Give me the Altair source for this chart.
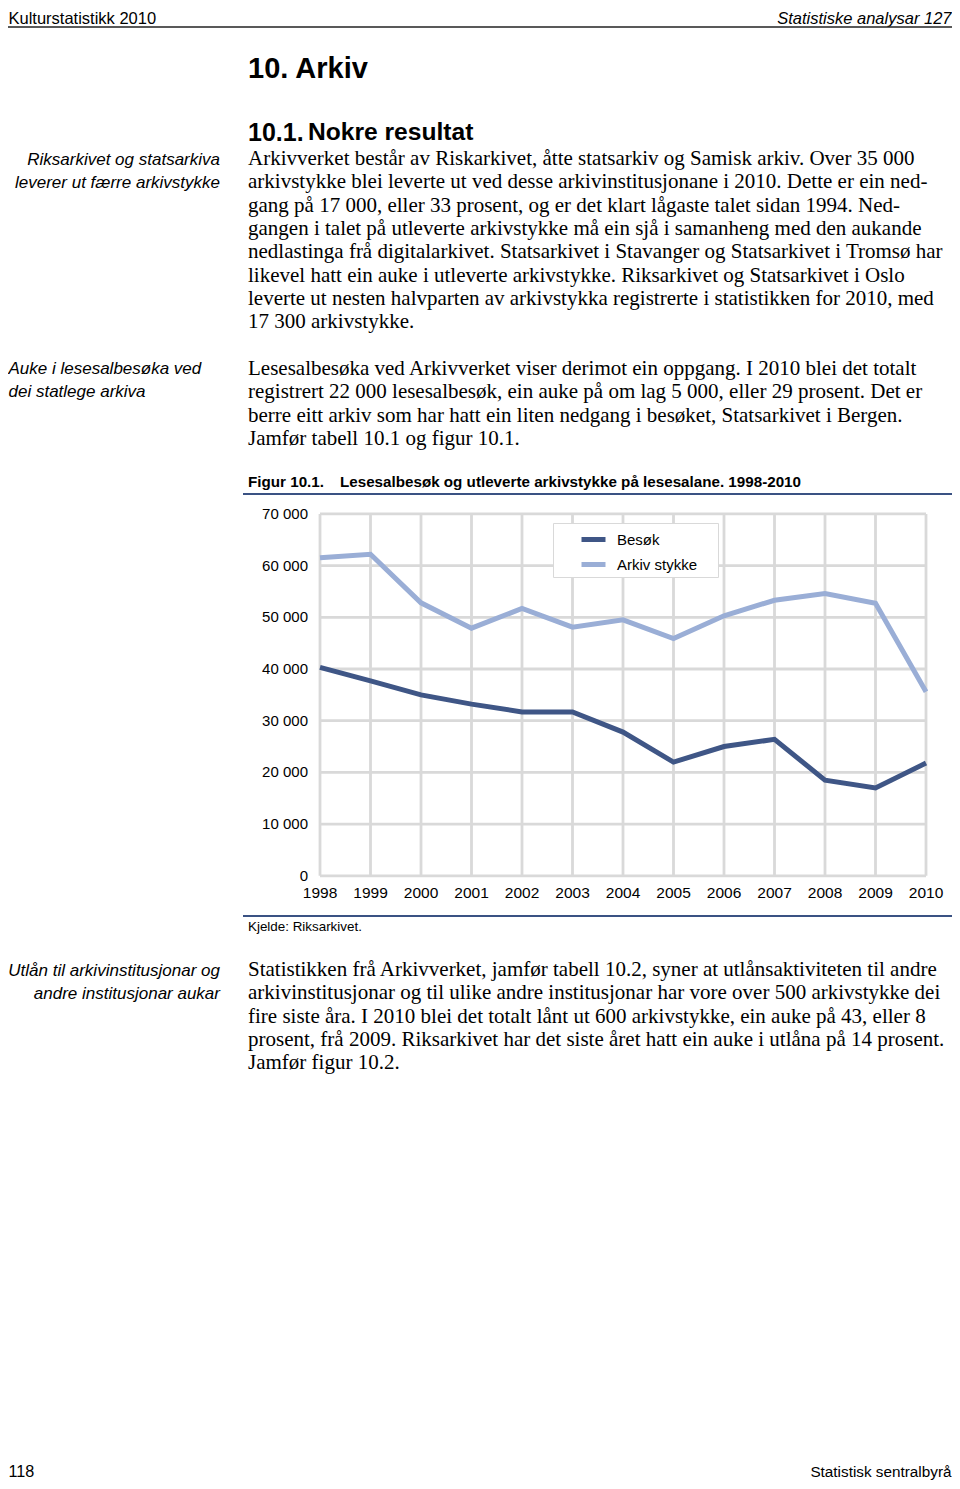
import altair as alt
import pandas as pd

# ---------------- data ----------------
years = [1998, 1999, 2000, 2001, 2002, 2003, 2004, 2005, 2006, 2007, 2008, 2009, 2010]
besok = [40300, 37700, 35000, 33200, 31700, 31700, 27800, 22000, 25000, 26400, 18500, 17000, 21800]
arkiv_stykke = [61500, 62200, 52800, 47900, 51700, 48100, 49500, 45900, 50300, 53300, 54600, 52700, 35600]
series_names = ["Besøk", "Arkiv stykke"]
series_colors = ["#3f5686", "#9aaed6"]
y_ticks = [0, 10000, 20000, 30000, 40000, 50000, 60000, 70000]
y_tick_labels = ["0", "10 000", "20 000", "30 000", "40 000", "50 000", "60 000", "70 000"]
x_tick_labels = [str(y) for y in years]

header_left = "Kulturstatistikk 2010"
header_right = "Statistiske analysar 127"
chapter = "10. Arkiv"
section_num = "10.1."
section_title = "Nokre resultat"
note1 = ["Riksarkivet og statsarkiva", "leverer ut færre arkivstykke"]
note2 = ["Auke i lesesalbesøka ved", "dei statlege arkiva"]
note3 = ["Utlån til arkivinstitusjonar og", "andre institusjonar aukar"]
para1 = [
    "Arkivverket består av Riskarkivet, åtte statsarkiv og Samisk arkiv. Over 35 000",
    "arkivstykke blei leverte ut ved desse arkivinstitusjonane i 2010. Dette er ein ned-",
    "gang på 17 000, eller 33 prosent, og er det klart lågaste talet sidan 1994. Ned-",
    "gangen i talet på utleverte arkivstykke må ein sjå i samanheng med den aukande",
    "nedlastinga frå digitalarkivet. Statsarkivet i Stavanger og Statsarkivet i Tromsø har",
    "likevel hatt ein auke i utleverte arkivstykke. Riksarkivet og Statsarkivet i Oslo",
    "leverte ut nesten halvparten av arkivstykka registrerte i statistikken for 2010, med",
    "17 300 arkivstykke.",
]
para2 = [
    "Lesesalbesøka ved Arkivverket viser derimot ein oppgang. I 2010 blei det totalt",
    "registrert 22 000 lesesalbesøk, ein auke på om lag 5 000, eller 29 prosent. Det er",
    "berre eitt arkiv som har hatt ein liten nedgang i besøket, Statsarkivet i Bergen.",
    "Jamfør tabell 10.1 og figur 10.1.",
]
para3 = [
    "Statistikken frå Arkivverket, jamfør tabell 10.2, syner at utlånsaktiviteten til andre",
    "arkivinstitusjonar og til ulike andre institusjonar har vore over 500 arkivstykke dei",
    "fire siste åra. I 2010 blei det totalt lånt ut 600 arkivstykke, ein auke på 43, eller 8",
    "prosent, frå 2009. Riksarkivet har det siste året hatt ein auke i utlåna på 14 prosent.",
    "Jamfør figur 10.2.",
]
fig_label = "Figur 10.1."
fig_title = "Lesesalbesøk og utleverte arkivstykke på lesesalane. 1998-2010"
source = "Kjelde: Riksarkivet."
footer_left = "118"
footer_right = "Statistisk sentralbyrå"

# ---------------- tables ----------------
lines_df = pd.DataFrame({
    "year": years * 2,
    "value": besok + arkiv_stykke,
    "series": [series_names[0]] * len(years) + [series_names[1]] * len(years),
})
xgrid_df = pd.DataFrame({"year": years, "label": x_tick_labels})
ygrid_df = pd.DataFrame({"v": y_ticks, "label": y_tick_labels})
one = pd.DataFrame({"k": [0]})

W, H = 944, 1473
OX, OY = 8, 8
def px(x): return x - OX
def py(y): return y - OY

xs = alt.Scale(domain=[1998, 2010], range=[px(320), px(926)], nice=False, zero=False)
ys = alt.Scale(domain=[0, 70000], range=[py(875.8), py(513.9)], nice=False, zero=False)

SANS = "Liberation Sans"
SERIF = "Liberation Serif"
GRID = "#d9d9d9"
RULEBLUE = "#3a5283"

layers = []

# vertical gridlines
layers.append(alt.Chart(xgrid_df).mark_rule(color=GRID, strokeWidth=2.8).encode(
    x=alt.X("year:Q", scale=xs, axis=None),
    y=alt.datum(0, scale=ys, axis=None),
    y2=alt.datum(70000),
))
# horizontal gridlines
layers.append(alt.Chart(ygrid_df).mark_rule(color=GRID, strokeWidth=2.8).encode(
    y=alt.Y("v:Q", scale=ys, axis=None),
    x=alt.datum(1998, scale=xs, axis=None),
    x2=alt.datum(2010),
))
# y tick labels
layers.append(alt.Chart(ygrid_df).mark_text(font=SANS, fontSize=15, align="right", baseline="middle", dx=-12, color="black").encode(
    y=alt.Y("v:Q", scale=ys, axis=None),
    x=alt.datum(1998, scale=xs, axis=None),
    text="label:N",
))
# x tick labels
layers.append(alt.Chart(xgrid_df).mark_text(font=SANS, fontSize=15.5, align="center", baseline="middle", dy=17, color="black").encode(
    x=alt.X("year:Q", scale=xs, axis=None),
    y=alt.datum(0, scale=ys, axis=None),
    text="label:N",
))
# data lines
layers.append(alt.Chart(lines_df).mark_line(strokeWidth=5).encode(
    x=alt.X("year:Q", scale=xs, axis=None),
    y=alt.Y("value:Q", scale=ys, axis=None),
    color=alt.Color("series:N", scale=alt.Scale(domain=series_names, range=series_colors),
                    sort=series_names,
                    legend=alt.Legend(orient="none", legendX=px(553), legendY=py(523), title=None,
                                      symbolType="stroke", symbolStrokeWidth=5, symbolSize=576,
                                      symbolOffset=24, labelOffset=9,
                                      labelFont=SANS, labelFontSize=15, labelColor="black",
                                      strokeColor=GRID, fillColor="white", padding=2, rowPadding=0,
                                      labelExpr="datum.label + '\u2002\u2800'")),
    order=alt.Order("year:Q"),
))

def txt(text, x, y, size, font=SANS, align="left", weight="normal", style="normal", lh=None, color="black"):
    kw = dict(text=text, font=font, fontSize=size, align=align, baseline="middle",
              fontWeight=weight, fontStyle=style, color=color)
    if lh is not None:
        kw["lineHeight"] = lh
    return alt.Chart(one).mark_text(**kw).encode(x=alt.value(px(x)), y=alt.value(py(y)))

def rule(x1, x2, y, color, w):
    return alt.Chart(one).mark_rule(color=color, strokeWidth=w).encode(
        x=alt.value(px(x1)), x2=alt.value(px(x2)), y=alt.value(py(y)))

LH = 23.3
BODY = 21
NOTE = 17
layers += [
    txt(header_left, 8.5, 18.5, 16.5),
    txt(header_right, 951.5, 18.5, 16.5, align="right", style="italic"),
    rule(8, 952, 27, "#222222", 1.5),
    txt(chapter, 248, 69, 29, weight="bold"),
    txt(section_num, 248, 133, 25, weight="bold"),
    txt(section_title, 308, 133, 24.6, weight="bold"),
    txt(note1, 220, 160, NOTE, align="right", style="italic", lh=LH),
    txt(para1, 248, 159, BODY, font=SERIF, lh=LH),
    txt(note2, 8.5, 369, NOTE, style="italic", lh=LH),
    txt(para2, 248, 369, BODY, font=SERIF, lh=LH),
    txt(fig_label, 248, 482, 15.2, weight="bold"),
    txt(fig_title, 340, 482, 15.2, weight="bold"),
    rule(243, 952, 494, RULEBLUE, 2),
    rule(243, 952, 916, RULEBLUE, 2),
    txt(source, 248, 927, 13.4),
    txt(note3, 220, 971, NOTE, align="right", style="italic", lh=LH),
    txt(para3, 248, 970, BODY, font=SERIF, lh=LH),
    txt(footer_left, 8.5, 1472, 16.2),
    txt(footer_right, 951.5, 1472, 15.3, align="right"),
]

chart = alt.layer(*layers).properties(
    width=W, height=H, padding=0, autosize=alt.AutoSizeParams(type="none"), background="white"
).configure_view(strokeWidth=0)

chart.save("out.html", embed_options={"renderer": "svg", "actions": False})
